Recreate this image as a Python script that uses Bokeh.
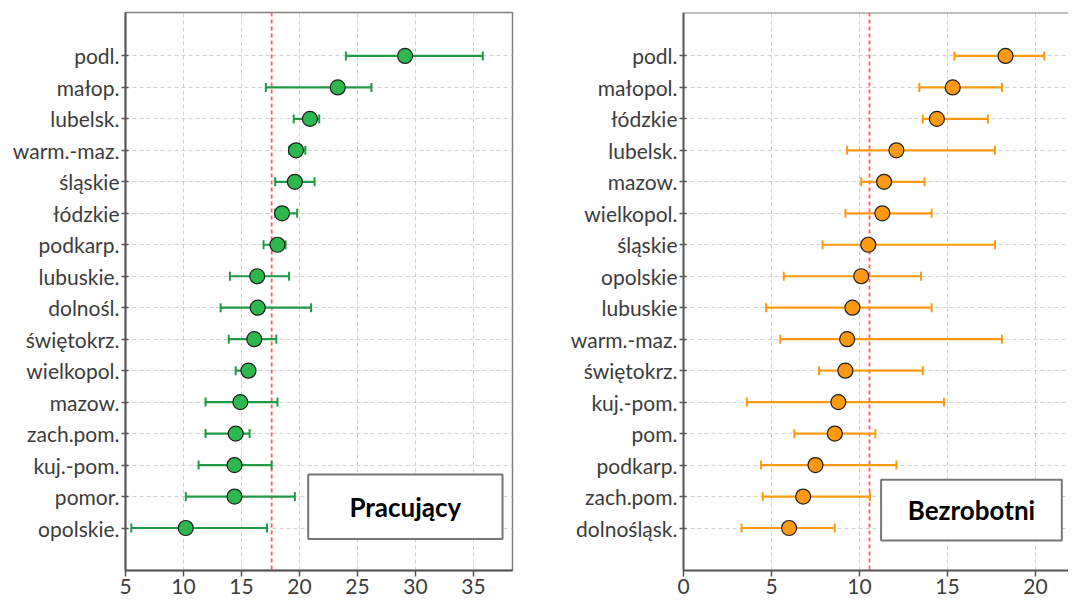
from bokeh.plotting import figure
from bokeh.models import (ColumnDataSource, Whisker, TeeHead, Span, BoxAnnotation,
                          Label, FixedTicker)
from bokeh.layouts import row
from bokeh.embed import file_html
from bokeh.resources import INLINE

# ---------------- data ----------------
work_regions = ["podl.", "małop.", "lubelsk.", "warm.-maz.", "śląskie", "łódzkie",
                "podkarp.", "lubuskie.", "dolnośl.", "świętokrz.", "wielkopol.",
                "mazow.", "zach.pom.", "kuj.-pom.", "pomor.", "opolskie."]
work_mean = [29.1, 23.3, 20.9, 19.7, 19.6, 18.5, 18.1, 16.35, 16.4, 16.1, 15.6,
             14.9, 14.5, 14.4, 14.4, 10.2]
work_low = [24.0, 17.1, 19.5, 19.1, 17.9, 17.9, 16.9, 14.0, 13.2, 13.9, 14.5,
            11.9, 11.9, 11.3, 10.2, 5.5]
work_high = [35.8, 26.2, 21.7, 20.5, 21.3, 19.8, 18.8, 19.1, 21.0, 18.0, 15.9,
             18.1, 15.7, 17.6, 19.6, 17.2]
work_ref = 17.6
work_title = "Pracujący"

unemp_regions = ["podl.", "małopol.", "łódzkie", "lubelsk.", "mazow.", "wielkopol.",
                 "śląskie", "opolskie", "lubuskie", "warm.-maz.", "świętokrz.",
                 "kuj.-pom.", "pom.", "podkarp.", "zach.pom.", "dolnośląsk."]
unemp_mean = [18.3, 15.3, 14.4, 12.1, 11.4, 11.3, 10.5, 10.1, 9.6, 9.3, 9.2,
              8.8, 8.6, 7.5, 6.8, 6.0]
unemp_low = [15.4, 13.4, 13.6, 9.3, 10.1, 9.2, 7.9, 5.7, 4.7, 5.5, 7.7,
             3.6, 6.3, 4.4, 4.5, 3.3]
unemp_high = [20.5, 18.1, 17.3, 17.7, 13.7, 14.1, 17.7, 13.5, 14.1, 18.1, 13.6,
              14.8, 10.9, 12.1, 10.6, 8.6]
unemp_ref = 10.57
unemp_title = "Bezrobotni"

LABEL_FONT = "Lato"
TITLE_FONT = "Lato"


def make_panel(regions, mean, low, high, ref, title, xr, xticks, width,
               mbl, mbr, mbt, line_col, fill_col, box, outline):
    n = len(regions)
    ys = [n - i for i in range(n)]
    src = ColumnDataSource(dict(y=ys, m=mean, lo=low, hi=high))
    p = figure(width=width, height=597, x_range=xr, y_range=(-0.35, 17.38),
               output_backend="svg", toolbar_location=None,
               min_border_left=mbl, min_border_right=mbr,
               min_border_top=mbt, min_border_bottom=27)
    p.background_fill_color = "white"
    p.border_fill_color = "white"
    if outline:
        p.outline_line_color = "#808080"
        p.outline_line_width = 1.5
    else:
        p.outline_line_color = None
        p.add_layout(Span(location=17.37, dimension="width", line_color="#808080",
                          line_width=1.5))

    for g in (p.xgrid, p.ygrid):
        g.grid_line_color = "#d0d0d0"
        g.grid_line_dash = "4 3"
        g.grid_line_width = 1
    p.xaxis.ticker = FixedTicker(ticks=xticks)
    p.yaxis.ticker = FixedTicker(ticks=ys)
    p.yaxis.major_label_overrides = {y: r for y, r in zip(ys, regions)}

    for ax in (p.xaxis, p.yaxis):
        ax.axis_line_color = "#555555"
        ax.axis_line_width = 2
        ax.major_tick_line_color = "#555555"
        ax.major_tick_line_width = 1.5
        ax.minor_tick_line_color = None
        ax.major_label_text_font = LABEL_FONT
        ax.major_label_text_font_size = "21px"
        ax.major_label_text_color = "#3c3c3c"
    p.yaxis.major_tick_in = 3
    p.yaxis.major_tick_out = 4
    p.yaxis.major_label_standoff = 2
    p.xaxis.major_tick_in = 0
    p.xaxis.major_tick_out = 6
    p.xaxis.major_label_standoff = 2

    p.add_layout(Span(location=ref, dimension="height", line_color="#ff5f5f",
                      line_width=1.8, line_dash="4 3", level="underlay"))

    w = Whisker(source=src, base="y", lower="lo", upper="hi", dimension="width",
                line_color=line_col, line_width=2.2,
                upper_head=TeeHead(size=9, line_color=line_col, line_width=2),
                lower_head=TeeHead(size=9, line_color=line_col, line_width=2))
    p.add_layout(w)
    p.scatter(x="m", y="y", source=src, size=15, fill_color=fill_col,
              line_color="#1e1e1e", line_width=1.2)

    bl, br, bb, bt = box
    p.add_layout(BoxAnnotation(left=bl, right=br, bottom=bb, top=bt,
                               fill_color="white", fill_alpha=1.0,
                               line_color="#777777", line_width=2, line_alpha=1.0))
    p.add_layout(Label(x=(bl + br) / 2, y=(bb + bt) / 2, text=title,
                       text_align="center", text_baseline="middle",
                       text_font=TITLE_FONT, text_font_style="bold",
                       text_font_size="26px", text_color="black"))
    return p


p1 = make_panel(work_regions, work_mean, work_low, work_high, work_ref, work_title,
                (5, 38.36), [5, 10, 15, 20, 25, 30, 35], 545, 125, 33, 12,
                "#1f9a45", "#2db84d", (20.75, 37.5, 0.65, 2.7), True)
p2 = make_panel(unemp_regions, unemp_mean, unemp_low, unemp_high, unemp_ref, unemp_title,
                (0, 21.88), [0, 5, 10, 15, 20], 523, 138, 0, 6,
                "#ff9a10", "#ff9a10", (11.23, 21.5, 0.6, 2.53), False)

layout = row(p1, p2)
open("out.html", "w").write(file_html(layout, INLINE))
